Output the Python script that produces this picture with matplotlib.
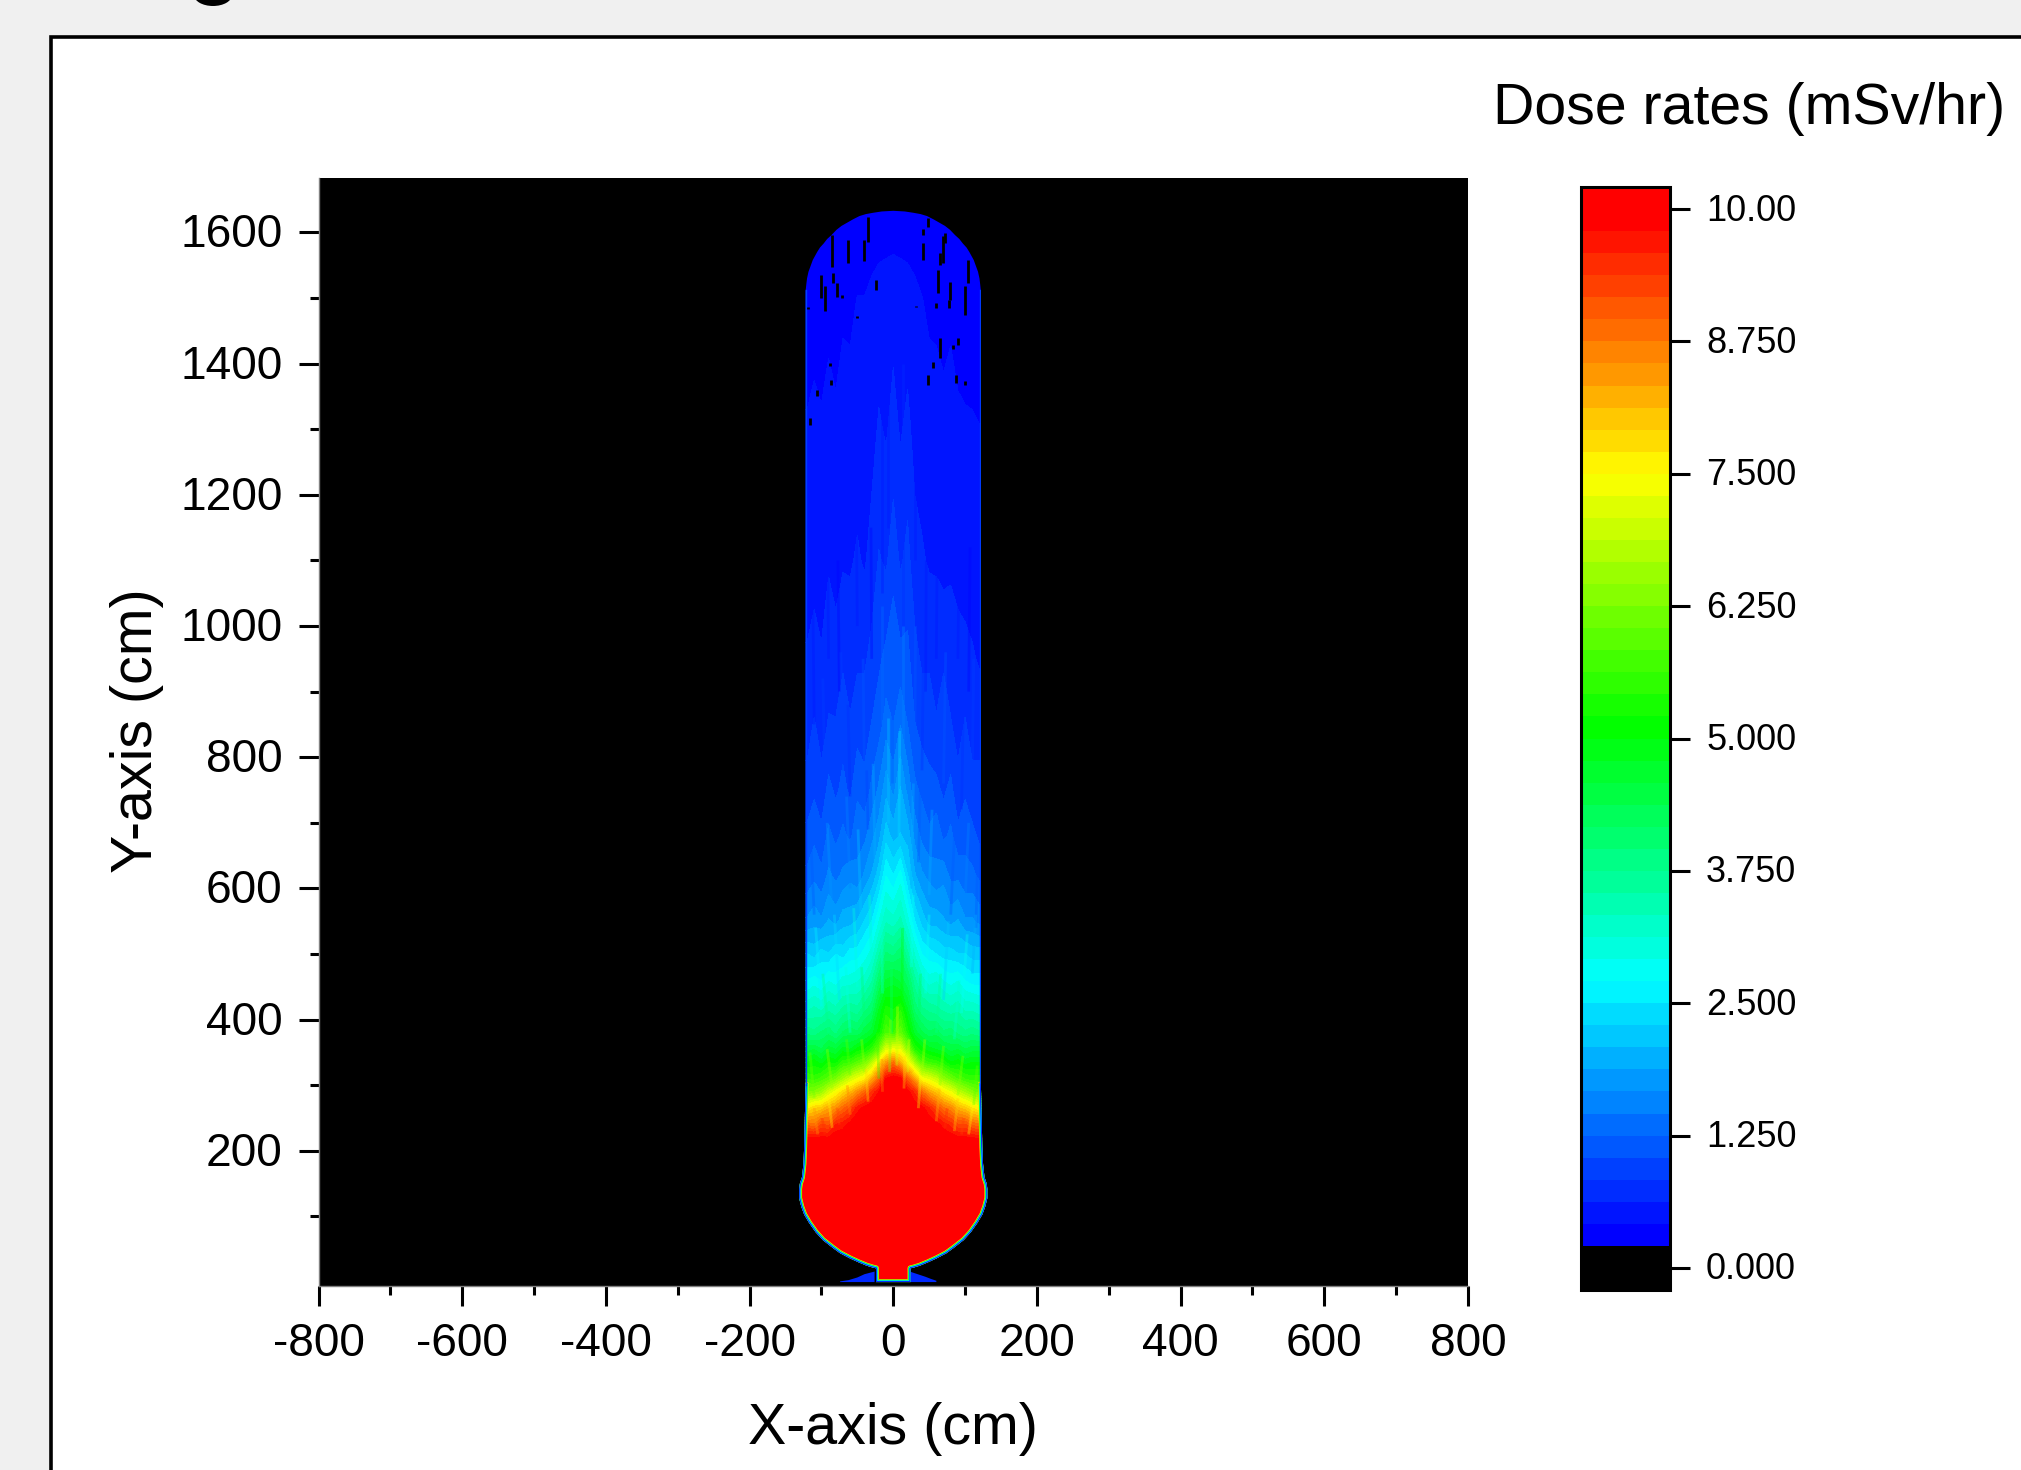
"""
Dose rate map in a cylindrical vessel, with a stepped colour scale.
"""

#%% Imports:

import numpy as np
import matplotlib.pyplot as plt
from matplotlib.collections import LineCollection
from matplotlib.colors import BoundaryNorm, LinearSegmentedColormap, ListedColormap
from matplotlib.patches import Polygon, Rectangle, Ellipse
from matplotlib.transforms import ScaledTranslation

plt.rcParams['font.family'] = ['Liberation Sans', 'DejaVu Sans']
plt.rcParams['axes.unicode_minus'] = False

#%% Data:

x_cols = [-130, -120, -110, -100, -90, -80, -70, -60, -50, -40, -30, -20, -10, 0,
          10, 20, 30, 40, 50, 60, 70, 80, 90, 100, 110, 120, 130]

y_rows = [0, 200, 218, 240, 265, 290, 310, 335, 354, 380, 415, 460, 500, 550, 620,
          680, 750, 850, 950, 1100, 1300, 1500, 1640]

# dose rates [mSv/hr], one row per entry of y_rows
dose = [
    [10.0]*27,
    [10.0]*27,
    [9.9, 9.9, 9.9, 9.9, 9.9, 10.0, 10.0, 10.0, 10.0, 10.0, 10.0, 10.0, 10.0, 10.0,
     10.0, 10.0, 10.0, 10.0, 10.0, 10.0, 10.0, 10.0, 9.9, 9.9, 9.9, 9.8, 9.8],
    [8.9, 8.9, 8.8, 9.2, 9.1, 9.6, 9.7, 9.9, 10.0, 10.0, 10.0, 10.0, 10.0, 10.0,
     10.0, 10.0, 10.0, 10.0, 10.0, 9.9, 9.7, 9.5, 9.2, 9.2, 8.9, 8.8, 8.8],
    [7.6, 7.6, 7.9, 8.0, 8.3, 8.5, 8.9, 9.2, 9.7, 9.9, 10.0, 10.0, 10.0, 10.0,
     10.0, 10.0, 10.0, 9.9, 9.6, 9.2, 8.8, 8.6, 8.2, 8.0, 7.7, 7.5, 7.5],
    [6.2, 6.2, 6.3, 6.5, 7.0, 7.4, 7.8, 8.1, 8.5, 8.9, 9.4, 9.8, 10.0, 10.0,
     10.0, 9.9, 9.5, 8.8, 8.3, 8.0, 7.6, 7.3, 6.9, 6.6, 6.3, 6.1, 6.1],
    [5.6, 5.6, 5.5, 5.7, 5.9, 6.2, 6.6, 7.0, 7.3, 7.6, 8.2, 8.9, 9.8, 10.0,
     9.9, 9.0, 8.3, 7.4, 7.2, 6.9, 6.4, 6.1, 5.8, 5.6, 5.5, 5.5, 5.5],
    [5.0, 5.0, 5.1, 4.9, 5.2, 5.1, 5.5, 5.6, 5.9, 6.1, 6.7, 7.6, 8.4, 8.8,
     8.2, 7.5, 6.6, 5.8, 5.6, 5.5, 5.3, 5.0, 5.1, 4.9, 5.0, 5.0, 5.0],
    [4.5, 4.5, 4.6, 4.4, 4.7, 4.6, 4.9, 4.8, 5.1, 5.2, 5.5, 6.2, 7.2, 7.4,
     7.3, 6.4, 5.4, 5.1, 4.9, 4.8, 4.7, 4.5, 4.6, 4.4, 4.5, 4.5, 4.5],
    [3.9, 3.9, 3.8, 4.0, 4.1, 3.9, 4.2, 4.3, 4.2, 4.5, 4.7, 5.1, 5.8, 5.6,
     6.0, 5.3, 4.7, 4.4, 4.2, 4.3, 4.0, 4.1, 3.9, 3.8, 3.9, 3.8, 3.8],
    [3.3, 3.3, 3.4, 3.3, 3.5, 3.4, 3.6, 3.7, 3.6, 3.9, 4.1, 4.8, 5.3, 5.2,
     5.4, 4.8, 4.1, 3.8, 3.7, 3.6, 3.5, 3.4, 3.5, 3.3, 3.3, 3.2, 3.2],
    [2.7, 2.7, 2.8, 2.7, 2.9, 2.8, 3.0, 3.0, 3.1, 3.2, 3.5, 4.1, 4.6, 4.7,
     4.5, 4.2, 3.6, 3.2, 3.0, 3.1, 2.9, 2.8, 2.9, 2.7, 2.6, 2.6, 2.6],
    [2.3, 2.3, 2.2, 2.4, 2.3, 2.5, 2.4, 2.6, 2.6, 2.8, 3.0, 3.5, 4.0, 3.9,
     4.1, 3.6, 3.1, 2.7, 2.6, 2.5, 2.4, 2.4, 2.3, 2.3, 2.2, 2.2, 2.2],
    [1.7, 1.7, 1.8, 1.7, 1.9, 1.8, 2.0, 2.0, 2.1, 2.3, 2.5, 2.9, 3.3, 3.2,
     3.4, 3.0, 2.5, 2.2, 2.0, 2.0, 1.9, 1.8, 1.9, 1.7, 1.7, 1.6, 1.6],
    [1.3, 1.3, 1.4, 1.3, 1.5, 1.4, 1.5, 1.6, 1.5, 1.7, 1.9, 2.2, 2.7, 2.5,
     2.8, 2.3, 1.9, 1.7, 1.6, 1.5, 1.6, 1.4, 1.4, 1.3, 1.3, 1.2, 1.2],
    [1.1, 1.1, 1.2, 1.1, 1.3, 1.2, 1.3, 1.2, 1.4, 1.4, 1.6, 1.8, 2.2, 2.0,
     2.1, 2.0, 1.6, 1.4, 1.3, 1.4, 1.2, 1.3, 1.1, 1.2, 1.1, 1.0, 1.0],
    [0.9, 0.9, 1.0, 0.9, 1.1, 1.0, 1.1, 1.0, 1.2, 1.1, 1.3, 1.5, 1.8, 1.6,
     1.9, 1.6, 1.3, 1.2, 1.1, 1.1, 1.0, 1.1, 0.9, 1.0, 0.9, 0.9, 0.9],
    [0.75, 0.75, 0.85, 0.75, 0.85, 0.85, 0.95, 0.85, 0.95, 0.95, 1.05, 1.15, 1.35, 1.25,
     1.45, 1.25, 1.05, 0.95, 0.95, 0.85, 0.95, 0.85, 0.75, 0.85, 0.75, 0.75, 0.75],
    [0.65, 0.65, 0.7, 0.65, 0.75, 0.7, 0.8, 0.75, 0.8, 0.8, 0.9, 1.0, 1.1, 1.2,
     1.1, 1.1, 0.9, 0.8, 0.8, 0.75, 0.8, 0.7, 0.7, 0.7, 0.65, 0.6, 0.6],
    [0.5, 0.5, 0.55, 0.5, 0.6, 0.55, 0.6, 0.6, 0.65, 0.6, 0.7, 0.85, 0.8, 0.95,
     0.8, 0.9, 0.7, 0.65, 0.6, 0.6, 0.55, 0.6, 0.55, 0.5, 0.5, 0.5, 0.5],
    [0.43, 0.43, 0.45, 0.43, 0.46, 0.44, 0.5, 0.48, 0.52, 0.5, 0.55, 0.65, 0.6, 0.7,
     0.6, 0.68, 0.55, 0.52, 0.5, 0.48, 0.46, 0.48, 0.44, 0.43, 0.43, 0.42, 0.42],
    [0.34, 0.34, 0.36, 0.36, 0.38, 0.36, 0.38, 0.38, 0.42, 0.42, 0.46, 0.5, 0.52, 0.54,
     0.52, 0.5, 0.46, 0.42, 0.38, 0.38, 0.36, 0.38, 0.36, 0.36, 0.34, 0.34, 0.34],
    [0.28]*27,
]

# vessel wall, right half [cm]
wall_half = [24, 24, 28, 37, 48, 60, 74, 84, 98, 108, 117, 124, 128, 131, 131, 130, 127, 125, 124,
             122, 122, 121, 120, 118, 115, 112, 109, 106, 102, 97, 92, 86, 79, 72, 64, 56, 47, 38,
             28, 16, 0]
wall_y = [0, 21, 22, 25, 30, 36, 44, 52, 64, 76, 90, 103, 115, 128, 142, 150, 160, 180, 206,
          300, 1511, 1521, 1530, 1540, 1549, 1558, 1564, 1570, 1577, 1583, 1590, 1596, 1604,
          1610, 1615, 1620, 1625, 1628, 1630, 1632, 1633]

# blue patches beside the neck [cm]
foot_x = [-74, -62, -50, -40, -26, -26, -74]
foot_y = [1, 3, 7, 12, 16, 0, 0]
foot2_x = [23, 23, 34, 45, 52, 60, 60]
foot2_y = [0, 16, 12, 8, 5, 2, 0]

# dropouts near the dome: x, y from, y to [cm]
speck_x = [-35, -63, -85, -41, -100, -84, -95, -78, -24, -71, 42, 48, 41, 69, 65, 72, 62, 79,
           77, 100, 104, 60, 65, 90, 56, 49, 88, 100, -86, -106, -116, -88, -51, -119, 32, 83]
speck_y0 = [1586, 1553, 1548, 1556, 1500, 1523, 1480, 1502, 1512, 1500, 1596, 1609, 1558, 1553,
            1550, 1584, 1507, 1497, 1485, 1474, 1523, 1485, 1408, 1429, 1393, 1368, 1370, 1368,
            1368, 1350, 1307, 1397, 1470, 1483, 1486, 1423]
speck_y1 = [1624, 1589, 1596, 1589, 1535, 1538, 1518, 1523, 1528, 1505, 1606, 1622, 1584, 1594,
            1568, 1599, 1543, 1525, 1497, 1518, 1558, 1492, 1439, 1439, 1403, 1383, 1383, 1373,
            1375, 1360, 1317, 1401, 1472, 1487, 1488, 1429]

# streaks in the field: from (x0, y0) to (x1, y1) [cm], dose rate [mSv/hr]
streak_x0 = [-15, 13, -8, 30, -50, -90, 60, 90, -75, -30, 45, 105, -110,
             -15, 13, -2, -40, -70, -95, -60, 40, 70, 95, 110, 30,
             -25, 25, -8, 8, -60, -85, -110, -45, 50, 80, 100, 115, 35, -35,
             -100, -75, -50, -30, -90, -60, -40, 25, 45, 70, 95, 110, 60, 85, 35, -15, 12, -3,
             -5, 5, -20, 20, -110, -85, -60, -40, 40, 65, 90, 112,
             -105, -85, -60, -35, -15, 15, 35, 60, 85, 105, -95, -75, 72, 95]
streak_y0 = [1050, 1000, 1150, 1100, 1000, 950, 950, 950, 900, 950, 900, 900, 850,
             850, 800, 760, 760, 780, 760, 740, 780, 760, 720, 780, 800,
             620, 600, 700, 680, 600, 560, 560, 560, 590, 560, 580, 540, 640, 690,
             420, 430, 450, 480, 380, 380, 390, 480, 440, 430, 410, 470, 380, 370, 380, 440, 420, 380,
             320, 330, 310, 320, 280, 295, 315, 320, 315, 300, 285, 270,
             225, 235, 255, 275, 290, 295, 265, 245, 230, 225, 225, 240, 235, 225]
streak_x1 = [-15, 13, -8, 30, -52, -92, 62, 92, -77, -31, 46, 107, -112,
             -15, 13, -2, -42, -73, -98, -63, 42, 73, 98, 112, 31,
             -28, 28, -8, 9, -65, -92, -115, -49, 54, 86, 105, 118, 38, -37,
             -108, -82, -55, -33, -98, -66, -44, 28, 50, 77, 103, 115, 66, 92, 38, -16, 13, -3,
             -4, 6, -22, 22, -116, -92, -65, -44, 44, 70, 97, 117,
             -110, -90, -64, -38, -16, 16, 38, 64, 90, 110, -99, -78, 75, 98]
streak_y1 = [1450, 1400, 1500, 1350, 1250, 1200, 1250, 1150, 1100, 1150, 1100, 1120, 1050,
             1030, 1000, 930, 950, 960, 920, 880, 950, 960, 900, 950, 1000,
             790, 760, 860, 840, 740, 700, 680, 690, 720, 700, 700, 660, 760, 780,
             540, 560, 570, 590, 470, 480, 480, 590, 560, 550, 530, 560, 470, 460, 470, 560, 540, 480,
             400, 420, 380, 370, 350, 355, 370, 370, 370, 360, 345, 330,
             265, 280, 300, 325, 340, 345, 315, 295, 280, 265, 250, 265, 265, 250]
streak_val = [0.62, 0.66, 0.5, 0.5, 0.5, 0.42, 0.52, 0.5, 0.35, 0.4, 0.45, 0.4, 0.45,
              1.3, 1.6, 1.2, 1.05, 0.95, 1.0, 0.7, 0.75, 1.05, 0.75, 0.9, 1.2,
              1.9, 2.0, 2.2, 2.4, 1.6, 1.7, 1.1, 2.1, 1.9, 1.2, 1.6, 1.2, 1.1, 1.0,
              2.6, 2.4, 3.0, 3.2, 3.9, 3.1, 4.0, 2.8, 2.9, 2.2, 2.9, 2.0, 3.9, 3.2, 4.3, 3.2, 5.2, 4.0,
              6.3, 7.0, 5.5, 7.2, 6.2, 6.5, 6.0, 6.6, 6.7, 6.4, 6.3, 6.0,
              8.4, 7.6, 8.6, 7.8, 8.6, 7.9, 7.3, 8.2, 8.0, 7.5, 9.4, 9.3, 9.5, 9.2]

#%% Colour steps:

bar_ticks = [0, 1.25, 2.5, 3.75, 5, 6.25, 7.5, 8.75, 10]
bar_labels = ['0.000', '1.250', '2.500', '3.750', '5.000', '6.250', '7.500', '8.750', '10.00']

step = 10/48
levels = np.concatenate(([-step], step*np.arange(1, 48), [10 + step]))
rainbow = LinearSegmentedColormap.from_list(
    'rainbow5', ['#0000ff', '#00ffff', '#00ff00', '#ffff00', '#ff0000'])
band_colors = ['black'] + [rainbow(k/46) for k in range(47)]

#%% Figure:

W, H = 2021, 1470
fig = plt.figure(figsize=(W/100, H/100), dpi=100, facecolor='#f0f0f0')


def box(left, top, right, bottom):
    return [left/W, 1 - bottom/H, (right - left)/W, (bottom - top)/H]


# white panel with black border, running off the right and bottom edges
fig.add_artist(Rectangle((51/W, -0.05), 1.05, 1.05 - 37/H, transform=fig.transFigure,
                         facecolor='white', edgecolor='black', linewidth=2.6, zorder=-2))
# tail of the cropped letter at the top
fig.add_artist(Ellipse((213/W, 1 + 5/H), 38/W, 22/H, transform=fig.transFigure,
                       facecolor='black', edgecolor='none', zorder=-1))

ax = fig.add_axes(box(318.5, 178, 1468, 1286))
ax.set_facecolor('black')

wall_x = np.concatenate((-np.array(wall_half), np.array(wall_half)[::-1]))
wall_yy = np.concatenate((wall_y, wall_y[::-1]))
vessel = Polygon(np.column_stack((wall_x, wall_yy)), closed=True, transform=ax.transData,
                 facecolor='none', edgecolor='none')
ax.add_patch(vessel)

cs = ax.contourf(x_cols, y_rows, dose, levels=levels, colors=band_colors)
cs.set_clip_path(vessel)

streak_segs = [[(a, b), (c, d)] for a, b, c, d in zip(streak_x0, streak_y0, streak_x1, streak_y1)]
streaks = LineCollection(streak_segs, array=np.array(streak_val), linewidths=2.0, alpha=0.35,
                         cmap=ListedColormap(band_colors),
                         norm=BoundaryNorm(levels, len(band_colors)))
ax.add_collection(streaks)
streaks.set_clip_path(vessel)

# thin colour rim at the wall, only the inner half of each stroke stays visible
n_low = 20
low_x = np.concatenate((-np.array(wall_half[:n_low])[::-1], [-24, 24], wall_half[:n_low]))
low_y = np.concatenate((np.array(wall_y[:n_low])[::-1], [0, 0], wall_y[:n_low]))
for rim_color, rim_width in zip(['#ffe000', '#00ff00', '#00ffff', '#0030ff'],
                                [4.2, 3.4, 2.6, 1.7]):
    rim, = ax.plot(low_x, low_y, color=rim_color, lw=rim_width, solid_joinstyle='round')
    rim.set_clip_path(vessel)
for side_sign in [-1, 1]:
    upper, = ax.plot(side_sign*np.array(wall_half[19:21]), wall_y[19:21], color='#0040ff', lw=1.7)
    upper.set_clip_path(vessel)

ax.fill(foot_x, foot_y, color='#0028ff', lw=0)
ax.fill(foot2_x, foot2_y, color='#0028ff', lw=0)

ax.vlines(speck_x, speck_y0, speck_y1, color='black', lw=2.0)

ax.set_xlim(-800, 800)
ax.set_ylim(-6, 1683)
ax.set_xticks(np.arange(-800, 801, 200))
ax.set_yticks(np.arange(200, 1601, 200))
ax.set_xticks(np.arange(-700, 800, 200), minor=True)
ax.set_yticks(np.arange(100, 1700, 200), minor=True)
ax.tick_params(which='major', length=14.5, width=2.2, labelsize=33.2, pad=11.5)
ax.tick_params(which='minor', length=6.5, width=2.2)
for side in ['top', 'right']:
    ax.spines[side].set_visible(False)
for side in ['left', 'bottom']:
    ax.spines[side].set_color('#808080')
    ax.spines[side].set_linewidth(1)
up_2px = ScaledTranslation(0, 2/100, fig.dpi_scale_trans)
for label in ax.get_yticklabels():
    label.set_transform(label.get_transform() + up_2px)

fig.text(893/W, 1 - 1429/H, 'X-axis (cm)', fontsize=41.3, ha='center', va='center')
fig.text(137/W, 1 - 731/H, 'Y-axis (cm)', fontsize=41.3, ha='center', va='center', rotation=90)
fig.text(1749/W, 1 - 109/H, 'Dose rates (mSv/hr)', fontsize=41.2, ha='center', va='center')

#%% Colour bar:

cax = fig.add_axes(box(1581, 187, 1670, 1290))
bar = fig.colorbar(cs, cax=cax, ticks=bar_ticks, spacing='proportional')
bar.set_ticklabels(bar_labels)
bar.ax.tick_params(length=14.5, width=2.2, labelsize=26, pad=11.5, which='major')
bar.ax.minorticks_off()
bar.outline.set_linewidth(2.2)
bar.outline.set_edgecolor('black')
for label in bar.ax.get_yticklabels():
    label.set_transform(label.get_transform() + up_2px)

fig.savefig('out.png', dpi=100, facecolor=fig.get_facecolor())
